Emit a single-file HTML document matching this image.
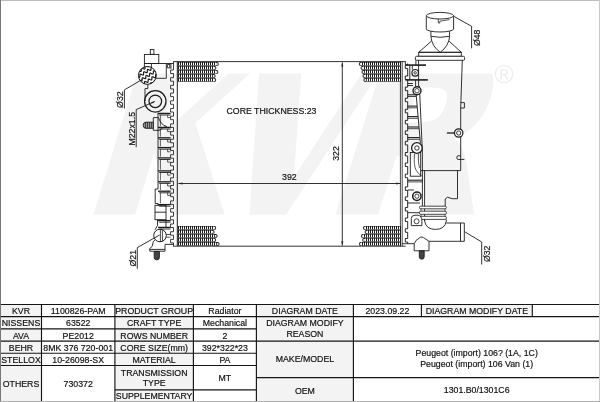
<!DOCTYPE html>
<html lang="en"><head><meta charset="utf-8"><title>Radiator 1100826-PAM diagram</title>
<style>
html,body{margin:0;padding:0;background:#fff;}
body{width:600px;height:402px;overflow:hidden;}
svg{display:block;font-family:"Liberation Sans",sans-serif;will-change:transform;}
</style></head><body>
<svg width="600" height="402" viewBox="0 0 600 402">
<rect x="0" y="0" width="600" height="402" fill="#fff"/>
<clipPath id="wc"><rect x="0" y="73.6" width="600" height="141.1"/></clipPath>
<g clip-path="url(#wc)" font-family="'DejaVu Serif',serif" font-weight="bold" font-size="200" fill="#f3f3f3"><text transform="matrix(1.1094,0,-0.5027,1.6245,45.87,267.575)">K</text><text transform="matrix(0.9555,0,-0.4859,1.3398,185.166,233.408)" stroke="#f3f3f3" stroke-width="3.5" stroke-linejoin="miter" stroke-miterlimit="8">V</text></g>
<g clip-path="url(#wc)" font-family="'DejaVu Sans',sans-serif" font-weight="bold" font-size="200" fill="#f3f3f3"><text transform="matrix(1.0036,0.0001,-0.3369,1.0734,320.172,211.805)" stroke="#f3f3f3" stroke-width="5" stroke-linejoin="miter" stroke-miterlimit="8">R</text></g>
<text x="504.1" y="83.4" text-anchor="middle" font-size="26.5" fill="#eeeeee">®</text>
<line x1="173.30" y1="61.60" x2="405.60" y2="61.60" stroke="#1c1c1c" stroke-width="0.9" />
<line x1="173.30" y1="246.20" x2="405.60" y2="246.20" stroke="#1c1c1c" stroke-width="0.9" />
<line x1="177.30" y1="61.60" x2="177.30" y2="246.20" stroke="#1c1c1c" stroke-width="1.0" />
<line x1="400.40" y1="61.60" x2="400.40" y2="246.20" stroke="#1c1c1c" stroke-width="0.8" />
<path d="M178.00,62.10 H216.95 A1.85,1.85 0 0 1 216.95,65.80 H178.00Z" fill="#1e1e1e"/>
<path d="M179.5,62.60V65.30M181.5,62.60V65.30M183.5,62.60V65.30M185.5,62.60V65.30M187.5,62.60V65.30M189.5,62.60V65.30M191.5,62.60V65.30M193.5,62.60V65.30M195.5,62.60V65.30M197.5,62.60V65.30M199.5,62.60V65.30M201.5,62.60V65.30M203.5,62.60V65.30M205.5,62.60V65.30M207.5,62.60V65.30M209.5,62.60V65.30M211.5,62.60V65.30M213.5,62.60V65.30M215.5,62.60V65.30" fill="none" stroke="#fff" stroke-width="1" stroke-linecap="butt"/>
<circle cx="216.85" cy="63.95" r="1.0" fill="#fff"/>
<path d="M178.00,66.10 H214.55 A1.85,1.85 0 0 1 214.55,69.80 H178.00Z" fill="#1e1e1e"/>
<path d="M179.5,66.60V69.30M181.5,66.60V69.30M183.5,66.60V69.30M185.5,66.60V69.30M187.5,66.60V69.30M189.5,66.60V69.30M191.5,66.60V69.30M193.5,66.60V69.30M195.5,66.60V69.30M197.5,66.60V69.30M199.5,66.60V69.30M201.5,66.60V69.30M203.5,66.60V69.30M205.5,66.60V69.30M207.5,66.60V69.30M209.5,66.60V69.30M211.5,66.60V69.30M213.5,66.60V69.30" fill="none" stroke="#fff" stroke-width="1" stroke-linecap="butt"/>
<circle cx="214.45" cy="67.95" r="1.0" fill="#fff"/>
<path d="M178.00,70.10 H216.55 A1.85,1.85 0 0 1 216.55,73.80 H178.00Z" fill="#1e1e1e"/>
<path d="M179.5,70.60V73.30M181.5,70.60V73.30M183.5,70.60V73.30M185.5,70.60V73.30M187.5,70.60V73.30M189.5,70.60V73.30M191.5,70.60V73.30M193.5,70.60V73.30M195.5,70.60V73.30M197.5,70.60V73.30M199.5,70.60V73.30M201.5,70.60V73.30M203.5,70.60V73.30M205.5,70.60V73.30M207.5,70.60V73.30M209.5,70.60V73.30M211.5,70.60V73.30M213.5,70.60V73.30M215.5,70.60V73.30" fill="none" stroke="#fff" stroke-width="1" stroke-linecap="butt"/>
<circle cx="216.45" cy="71.95" r="1.0" fill="#fff"/>
<path d="M178.00,74.10 H213.75 A1.85,1.85 0 0 1 213.75,77.80 H178.00Z" fill="#1e1e1e"/>
<path d="M179.5,74.60V77.30M181.5,74.60V77.30M183.5,74.60V77.30M185.5,74.60V77.30M187.5,74.60V77.30M189.5,74.60V77.30M191.5,74.60V77.30M193.5,74.60V77.30M195.5,74.60V77.30M197.5,74.60V77.30M199.5,74.60V77.30M201.5,74.60V77.30M203.5,74.60V77.30M205.5,74.60V77.30M207.5,74.60V77.30M209.5,74.60V77.30M211.5,74.60V77.30" fill="none" stroke="#fff" stroke-width="1" stroke-linecap="butt"/>
<circle cx="213.65" cy="75.95" r="1.0" fill="#fff"/>
<path d="M178.00,78.10 H214.35 A1.85,1.85 0 0 1 214.35,81.80 H178.00Z" fill="#1e1e1e"/>
<path d="M179.5,78.60V81.30M181.5,78.60V81.30M183.5,78.60V81.30M185.5,78.60V81.30M187.5,78.60V81.30M189.5,78.60V81.30M191.5,78.60V81.30M193.5,78.60V81.30M195.5,78.60V81.30M197.5,78.60V81.30M199.5,78.60V81.30M201.5,78.60V81.30M203.5,78.60V81.30M205.5,78.60V81.30M207.5,78.60V81.30M209.5,78.60V81.30M211.5,78.60V81.30M213.5,78.60V81.30" fill="none" stroke="#fff" stroke-width="1" stroke-linecap="butt"/>
<circle cx="214.25" cy="79.95" r="1.0" fill="#fff"/>
<path d="M178.00,226.10 H214.35 A1.85,1.85 0 0 1 214.35,229.80 H178.00Z" fill="#1e1e1e"/>
<path d="M179.5,226.60V229.30M181.5,226.60V229.30M183.5,226.60V229.30M185.5,226.60V229.30M187.5,226.60V229.30M189.5,226.60V229.30M191.5,226.60V229.30M193.5,226.60V229.30M195.5,226.60V229.30M197.5,226.60V229.30M199.5,226.60V229.30M201.5,226.60V229.30M203.5,226.60V229.30M205.5,226.60V229.30M207.5,226.60V229.30M209.5,226.60V229.30M211.5,226.60V229.30M213.5,226.60V229.30" fill="none" stroke="#fff" stroke-width="1" stroke-linecap="butt"/>
<circle cx="214.25" cy="227.95" r="1.0" fill="#fff"/>
<path d="M178.00,230.10 H212.75 A1.85,1.85 0 0 1 212.75,233.80 H178.00Z" fill="#1e1e1e"/>
<path d="M179.5,230.60V233.30M181.5,230.60V233.30M183.5,230.60V233.30M185.5,230.60V233.30M187.5,230.60V233.30M189.5,230.60V233.30M191.5,230.60V233.30M193.5,230.60V233.30M195.5,230.60V233.30M197.5,230.60V233.30M199.5,230.60V233.30M201.5,230.60V233.30M203.5,230.60V233.30M205.5,230.60V233.30M207.5,230.60V233.30M209.5,230.60V233.30M211.5,230.60V233.30" fill="none" stroke="#fff" stroke-width="1" stroke-linecap="butt"/>
<circle cx="212.65" cy="231.95" r="1.0" fill="#fff"/>
<path d="M178.00,234.10 H215.75 A1.85,1.85 0 0 1 215.75,237.80 H178.00Z" fill="#1e1e1e"/>
<path d="M179.5,234.60V237.30M181.5,234.60V237.30M183.5,234.60V237.30M185.5,234.60V237.30M187.5,234.60V237.30M189.5,234.60V237.30M191.5,234.60V237.30M193.5,234.60V237.30M195.5,234.60V237.30M197.5,234.60V237.30M199.5,234.60V237.30M201.5,234.60V237.30M203.5,234.60V237.30M205.5,234.60V237.30M207.5,234.60V237.30M209.5,234.60V237.30M211.5,234.60V237.30M213.5,234.60V237.30" fill="none" stroke="#fff" stroke-width="1" stroke-linecap="butt"/>
<circle cx="215.65" cy="235.95" r="1.0" fill="#fff"/>
<path d="M178.00,238.10 H214.35 A1.85,1.85 0 0 1 214.35,241.80 H178.00Z" fill="#1e1e1e"/>
<path d="M179.5,238.60V241.30M181.5,238.60V241.30M183.5,238.60V241.30M185.5,238.60V241.30M187.5,238.60V241.30M189.5,238.60V241.30M191.5,238.60V241.30M193.5,238.60V241.30M195.5,238.60V241.30M197.5,238.60V241.30M199.5,238.60V241.30M201.5,238.60V241.30M203.5,238.60V241.30M205.5,238.60V241.30M207.5,238.60V241.30M209.5,238.60V241.30M211.5,238.60V241.30M213.5,238.60V241.30" fill="none" stroke="#fff" stroke-width="1" stroke-linecap="butt"/>
<circle cx="214.25" cy="239.95" r="1.0" fill="#fff"/>
<path d="M178.00,242.10 H217.65 A1.85,1.85 0 0 1 217.65,245.80 H178.00Z" fill="#1e1e1e"/>
<path d="M179.5,242.60V245.30M181.5,242.60V245.30M183.5,242.60V245.30M185.5,242.60V245.30M187.5,242.60V245.30M189.5,242.60V245.30M191.5,242.60V245.30M193.5,242.60V245.30M195.5,242.60V245.30M197.5,242.60V245.30M199.5,242.60V245.30M201.5,242.60V245.30M203.5,242.60V245.30M205.5,242.60V245.30M207.5,242.60V245.30M209.5,242.60V245.30M211.5,242.60V245.30M213.5,242.60V245.30M215.5,242.60V245.30" fill="none" stroke="#fff" stroke-width="1" stroke-linecap="butt"/>
<circle cx="217.55" cy="243.95" r="1.0" fill="#fff"/>
<path d="M401.00,62.10 H360.65 A1.85,1.85 0 0 0 360.65,65.80 H401.00Z" fill="#1e1e1e"/>
<path d="M399.5,62.60V65.30M397.5,62.60V65.30M395.5,62.60V65.30M393.5,62.60V65.30M391.5,62.60V65.30M389.5,62.60V65.30M387.5,62.60V65.30M385.5,62.60V65.30M383.5,62.60V65.30M381.5,62.60V65.30M379.5,62.60V65.30M377.5,62.60V65.30M375.5,62.60V65.30M373.5,62.60V65.30M371.5,62.60V65.30M369.5,62.60V65.30M367.5,62.60V65.30M365.5,62.60V65.30M363.5,62.60V65.30M361.5,62.60V65.30" fill="none" stroke="#fff" stroke-width="1" stroke-linecap="butt"/>
<circle cx="360.75" cy="63.95" r="1.0" fill="#fff"/>
<path d="M401.00,66.10 H362.45 A1.85,1.85 0 0 0 362.45,69.80 H401.00Z" fill="#1e1e1e"/>
<path d="M399.5,66.60V69.30M397.5,66.60V69.30M395.5,66.60V69.30M393.5,66.60V69.30M391.5,66.60V69.30M389.5,66.60V69.30M387.5,66.60V69.30M385.5,66.60V69.30M383.5,66.60V69.30M381.5,66.60V69.30M379.5,66.60V69.30M377.5,66.60V69.30M375.5,66.60V69.30M373.5,66.60V69.30M371.5,66.60V69.30M369.5,66.60V69.30M367.5,66.60V69.30M365.5,66.60V69.30M363.5,66.60V69.30" fill="none" stroke="#fff" stroke-width="1" stroke-linecap="butt"/>
<circle cx="362.55" cy="67.95" r="1.0" fill="#fff"/>
<path d="M401.00,70.10 H363.35 A1.85,1.85 0 0 0 363.35,73.80 H401.00Z" fill="#1e1e1e"/>
<path d="M399.5,70.60V73.30M397.5,70.60V73.30M395.5,70.60V73.30M393.5,70.60V73.30M391.5,70.60V73.30M389.5,70.60V73.30M387.5,70.60V73.30M385.5,70.60V73.30M383.5,70.60V73.30M381.5,70.60V73.30M379.5,70.60V73.30M377.5,70.60V73.30M375.5,70.60V73.30M373.5,70.60V73.30M371.5,70.60V73.30M369.5,70.60V73.30M367.5,70.60V73.30M365.5,70.60V73.30" fill="none" stroke="#fff" stroke-width="1" stroke-linecap="butt"/>
<circle cx="363.45" cy="71.95" r="1.0" fill="#fff"/>
<path d="M401.00,74.10 H364.35 A1.85,1.85 0 0 0 364.35,77.80 H401.00Z" fill="#1e1e1e"/>
<path d="M399.5,74.60V77.30M397.5,74.60V77.30M395.5,74.60V77.30M393.5,74.60V77.30M391.5,74.60V77.30M389.5,74.60V77.30M387.5,74.60V77.30M385.5,74.60V77.30M383.5,74.60V77.30M381.5,74.60V77.30M379.5,74.60V77.30M377.5,74.60V77.30M375.5,74.60V77.30M373.5,74.60V77.30M371.5,74.60V77.30M369.5,74.60V77.30M367.5,74.60V77.30M365.5,74.60V77.30" fill="none" stroke="#fff" stroke-width="1" stroke-linecap="butt"/>
<circle cx="364.45" cy="75.95" r="1.0" fill="#fff"/>
<path d="M401.00,78.10 H365.25 A1.85,1.85 0 0 0 365.25,81.80 H401.00Z" fill="#1e1e1e"/>
<path d="M399.5,78.60V81.30M397.5,78.60V81.30M395.5,78.60V81.30M393.5,78.60V81.30M391.5,78.60V81.30M389.5,78.60V81.30M387.5,78.60V81.30M385.5,78.60V81.30M383.5,78.60V81.30M381.5,78.60V81.30M379.5,78.60V81.30M377.5,78.60V81.30M375.5,78.60V81.30M373.5,78.60V81.30M371.5,78.60V81.30M369.5,78.60V81.30M367.5,78.60V81.30" fill="none" stroke="#fff" stroke-width="1" stroke-linecap="butt"/>
<circle cx="365.35" cy="79.95" r="1.0" fill="#fff"/>
<path d="M401.00,226.10 H364.85 A1.85,1.85 0 0 0 364.85,229.80 H401.00Z" fill="#1e1e1e"/>
<path d="M399.5,226.60V229.30M397.5,226.60V229.30M395.5,226.60V229.30M393.5,226.60V229.30M391.5,226.60V229.30M389.5,226.60V229.30M387.5,226.60V229.30M385.5,226.60V229.30M383.5,226.60V229.30M381.5,226.60V229.30M379.5,226.60V229.30M377.5,226.60V229.30M375.5,226.60V229.30M373.5,226.60V229.30M371.5,226.60V229.30M369.5,226.60V229.30M367.5,226.60V229.30M365.5,226.60V229.30" fill="none" stroke="#fff" stroke-width="1" stroke-linecap="butt"/>
<circle cx="364.95" cy="227.95" r="1.0" fill="#fff"/>
<path d="M401.00,230.10 H366.45 A1.85,1.85 0 0 0 366.45,233.80 H401.00Z" fill="#1e1e1e"/>
<path d="M399.5,230.60V233.30M397.5,230.60V233.30M395.5,230.60V233.30M393.5,230.60V233.30M391.5,230.60V233.30M389.5,230.60V233.30M387.5,230.60V233.30M385.5,230.60V233.30M383.5,230.60V233.30M381.5,230.60V233.30M379.5,230.60V233.30M377.5,230.60V233.30M375.5,230.60V233.30M373.5,230.60V233.30M371.5,230.60V233.30M369.5,230.60V233.30M367.5,230.60V233.30" fill="none" stroke="#fff" stroke-width="1" stroke-linecap="butt"/>
<circle cx="366.55" cy="231.95" r="1.0" fill="#fff"/>
<path d="M401.00,234.10 H362.85 A1.85,1.85 0 0 0 362.85,237.80 H401.00Z" fill="#1e1e1e"/>
<path d="M399.5,234.60V237.30M397.5,234.60V237.30M395.5,234.60V237.30M393.5,234.60V237.30M391.5,234.60V237.30M389.5,234.60V237.30M387.5,234.60V237.30M385.5,234.60V237.30M383.5,234.60V237.30M381.5,234.60V237.30M379.5,234.60V237.30M377.5,234.60V237.30M375.5,234.60V237.30M373.5,234.60V237.30M371.5,234.60V237.30M369.5,234.60V237.30M367.5,234.60V237.30M365.5,234.60V237.30M363.5,234.60V237.30" fill="none" stroke="#fff" stroke-width="1" stroke-linecap="butt"/>
<circle cx="362.95" cy="235.95" r="1.0" fill="#fff"/>
<path d="M401.00,238.10 H364.05 A1.85,1.85 0 0 0 364.05,241.80 H401.00Z" fill="#1e1e1e"/>
<path d="M399.5,238.60V241.30M397.5,238.60V241.30M395.5,238.60V241.30M393.5,238.60V241.30M391.5,238.60V241.30M389.5,238.60V241.30M387.5,238.60V241.30M385.5,238.60V241.30M383.5,238.60V241.30M381.5,238.60V241.30M379.5,238.60V241.30M377.5,238.60V241.30M375.5,238.60V241.30M373.5,238.60V241.30M371.5,238.60V241.30M369.5,238.60V241.30M367.5,238.60V241.30M365.5,238.60V241.30" fill="none" stroke="#fff" stroke-width="1" stroke-linecap="butt"/>
<circle cx="364.15" cy="239.95" r="1.0" fill="#fff"/>
<path d="M401.00,242.10 H360.85 A1.85,1.85 0 0 0 360.85,245.80 H401.00Z" fill="#1e1e1e"/>
<path d="M399.5,242.60V245.30M397.5,242.60V245.30M395.5,242.60V245.30M393.5,242.60V245.30M391.5,242.60V245.30M389.5,242.60V245.30M387.5,242.60V245.30M385.5,242.60V245.30M383.5,242.60V245.30M381.5,242.60V245.30M379.5,242.60V245.30M377.5,242.60V245.30M375.5,242.60V245.30M373.5,242.60V245.30M371.5,242.60V245.30M369.5,242.60V245.30M367.5,242.60V245.30M365.5,242.60V245.30M363.5,242.60V245.30M361.5,242.60V245.30" fill="none" stroke="#fff" stroke-width="1" stroke-linecap="butt"/>
<circle cx="360.95" cy="243.95" r="1.0" fill="#fff"/>
<line x1="178.50" y1="183.50" x2="400.30" y2="183.50" stroke="#1c1c1c" stroke-width="0.9" />
<polygon points="177.9,183.5 182.5,182.5 182.5,184.5" fill="#222"/>
<polygon points="400.8,183.5 396.2,182.5 396.2,184.5" fill="#222"/>
<line x1="342.30" y1="62.50" x2="342.30" y2="245.50" stroke="#1c1c1c" stroke-width="0.9" />
<polygon points="342.3,62 341.3,66.6 343.3,66.6" fill="#222"/>
<polygon points="342.3,245.9 341.3,241.3 343.3,241.3" fill="#222"/>
<text x="289.40" y="180.20" text-anchor="middle" font-size="8.78" fill="#111" stroke="#111" stroke-width="0.18" >392</text>
<text x="339.40" y="153.50" text-anchor="middle" font-size="8.78" fill="#111" stroke="#111" stroke-width="0.18" transform="rotate(-90 339.40 153.50)" >322</text>
<text x="271.50" y="114.20" text-anchor="middle" font-size="8.78" fill="#111" stroke="#111" stroke-width="0.18" >CORE THICKNESS:23</text>
<path d="M173.50,61.60V70.00H170.60V73.50H173.50V77.70H170.60V81.20H173.50V85.40H170.60V88.90H173.50V93.10H170.60V96.60H173.50V100.80H170.60V104.30H173.50V108.50H170.60V112.00H173.50V116.20H170.60V119.70H173.50V123.90H170.60V127.40H173.50V131.60H170.60V135.10H173.50V139.30H170.60V142.80H173.50V147.00H170.60V150.50H173.50V154.70H170.60V158.20H173.50V162.40H170.60V165.90H173.50V170.10H170.60V173.60H173.50V177.80H170.60V181.30H173.50V185.50H170.60V189.00H173.50V193.20H170.60V196.70H173.50V200.90H170.60V204.40H173.50V208.60H170.60V212.10H173.50V216.30H170.60V219.80H173.50V224.00H170.60V227.50H173.50V231.70H170.60V235.20H173.50V239.40H170.60V242.90H173.50V246.20" fill="none" stroke="#1c1c1c" stroke-width="0.85" stroke-linejoin="round" />
<rect x="150.30" y="49.60" width="3.60" height="4.80" fill="none" stroke="#1c1c1c" stroke-width="0.9" rx="0"/>
<rect x="144.40" y="54.40" width="14.40" height="9.10" fill="none" stroke="#1c1c1c" stroke-width="0.9" rx="0"/>
<line x1="144.40" y1="63.50" x2="173.60" y2="63.50" stroke="#1c1c1c" stroke-width="0.9" />
<path d="M144.4,63.5V70.5 M151.4,63.5V67.4 M166.3,63.5V78.3H155.5 M167.4,64.5h2.4v3.4h-2.4z M170.9,63.5V69.2" fill="none" stroke="#1c1c1c" stroke-width="0.9" stroke-linejoin="round" />
<clipPath id="hc"><circle cx="147.4" cy="75.4" r="8.9"/></clipPath>
<circle cx="147.40" cy="75.40" r="8.95" fill="#fff" stroke="#1c1c1c" stroke-width="1.0"/>
<g clip-path="url(#hc)"><path d="M130.11,76.04 L130.16,75.65 L130.28,75.36 L130.47,75.19 L130.73,75.15 L131.07,75.21 L131.46,75.36 L131.88,75.57 L132.31,75.78 L132.71,75.96 L133.07,76.06 L133.37,76.06 L133.59,75.94 L133.73,75.70 L133.81,75.35 L133.83,74.92 L133.83,74.44 L133.83,73.97 L133.86,73.54 L133.93,73.19 L134.08,72.95 L134.30,72.83 L134.59,72.83 L134.95,72.93 L135.36,73.11 L135.78,73.32 L136.21,73.53 L136.60,73.68 L136.93,73.74 L137.20,73.70 L137.39,73.53 L137.50,73.24 L137.55,72.85 L137.57,72.40 L137.56,71.92 L137.57,71.46 L137.61,71.06 L137.71,70.75 L137.89,70.55 L138.14,70.48 L138.46,70.53 L138.84,70.67 L139.26,70.86 L139.69,71.08 L140.10,71.26 L140.47,71.38 L140.78,71.41 L141.01,71.31 L141.17,71.09 L141.26,70.76 L141.29,70.35 L141.30,69.88 L141.29,69.40 L141.31,68.96 L141.38,68.59 L141.51,68.33 L141.71,68.18 L141.99,68.16 L142.34,68.24 L142.74,68.41 L143.16,68.62 L143.59,68.82 L143.98,68.99 L144.33,69.07 L144.61,69.05 L144.82,68.91 L144.95,68.64 L145.01,68.27 L145.03,67.83 L145.03,67.35 L145.03,66.89 L145.06,66.47 L145.15,66.14 L145.31,65.92 L145.54,65.83 L145.85,65.85 L146.22,65.97 L146.64,66.16 L147.06,66.37 L147.48,66.57 L147.86,66.70 L148.18,66.75 L148.43,66.68 L148.61,66.48 L148.71,66.17 L148.75,65.77 L148.76,65.31 L148.76,64.83 L148.77,64.38 L148.82,63.99 L148.94,63.71 L149.13,63.54 L149.39,63.49 L149.73,63.55 L150.12,63.71 L150.54,63.91 L150.96,64.12 L151.37,64.30 L151.73,64.40 L152.02,64.40 L152.24,64.28 L152.39,64.04 L152.46,63.69 L152.49,63.26 L152.49,62.79 L152.49,62.31 L152.51,61.88 L152.59,61.53 L152.73,61.29 L152.95,61.17 L153.25,61.17 L153.61,61.27 L154.01,61.45 L154.44,61.66 L154.86,61.87 L155.25,62.02 L155.59,62.08 L155.85,62.04 L156.04,61.87 L156.16,61.58 L156.21,61.19" fill="none" stroke="#1c1c1c" stroke-width="1.2"/><path d="M132.39,79.68 L132.44,79.30 L132.56,79.01 L132.75,78.84 L133.01,78.79 L133.35,78.86 L133.74,79.01 L134.16,79.21 L134.59,79.43 L134.99,79.60 L135.35,79.71 L135.65,79.71 L135.87,79.59 L136.01,79.34 L136.09,78.99 L136.11,78.56 L136.11,78.09 L136.11,77.62 L136.14,77.19 L136.21,76.84 L136.36,76.60 L136.58,76.48 L136.87,76.48 L137.23,76.58 L137.64,76.76 L138.06,76.97 L138.48,77.17 L138.87,77.32 L139.21,77.39 L139.47,77.34 L139.66,77.17 L139.78,76.88 L139.83,76.50 L139.84,76.05 L139.84,75.57 L139.85,75.11 L139.89,74.70 L139.99,74.40 L140.17,74.20 L140.42,74.13 L140.74,74.17 L141.12,74.31 L141.54,74.51 L141.96,74.72 L142.38,74.91 L142.75,75.03 L143.06,75.05 L143.29,74.96 L143.45,74.74 L143.54,74.41 L143.57,73.99 L143.57,73.52 L143.57,73.05 L143.59,72.61 L143.65,72.24 L143.78,71.97 L143.99,71.83 L144.27,71.80 L144.62,71.89 L145.01,72.05 L145.44,72.26 L145.86,72.47 L146.26,72.64 L146.61,72.72 L146.89,72.70 L147.09,72.55 L147.22,72.29 L147.29,71.92 L147.31,71.48 L147.30,71.00 L147.31,70.53 L147.34,70.12 L147.43,69.79 L147.59,69.57 L147.82,69.47 L148.13,69.49 L148.50,69.62 L148.91,69.80 L149.34,70.02 L149.76,70.21 L150.14,70.35 L150.46,70.39 L150.71,70.32 L150.89,70.13 L150.99,69.82 L151.03,69.42 L151.04,68.96 L151.03,68.48 L151.05,68.03 L151.10,67.64 L151.21,67.35 L151.40,67.18 L151.67,67.14 L152.00,67.20 L152.39,67.35 L152.82,67.56 L153.24,67.77 L153.65,67.94 L154.01,68.05 L154.30,68.05 L154.52,67.93 L154.67,67.69 L154.74,67.34 L154.77,66.91 L154.77,66.43 L154.77,65.96 L154.79,65.53 L154.87,65.18 L155.01,64.94 L155.23,64.82 L155.53,64.82 L155.89,64.92 L156.29,65.10 L156.72,65.31 L157.14,65.51 L157.53,65.67 L157.87,65.73 L158.13,65.68 L158.32,65.51 L158.44,65.23 L158.49,64.84" fill="none" stroke="#1c1c1c" stroke-width="1.2"/><path d="M134.67,83.33 L134.72,82.94 L134.84,82.66 L135.03,82.49 L135.29,82.44 L135.63,82.51 L136.02,82.66 L136.44,82.86 L136.87,83.07 L137.27,83.25 L137.63,83.35 L137.92,83.35 L138.14,83.23 L138.29,82.99 L138.36,82.64 L138.39,82.21 L138.39,81.74 L138.39,81.26 L138.41,80.83 L138.49,80.48 L138.63,80.24 L138.85,80.12 L139.15,80.12 L139.51,80.23 L139.91,80.40 L140.34,80.62 L140.76,80.82 L141.15,80.97 L141.49,81.04 L141.75,80.99 L141.94,80.82 L142.06,80.53 L142.11,80.15 L142.12,79.69 L142.12,79.21 L142.13,78.75 L142.17,78.35 L142.27,78.04 L142.44,77.85 L142.69,77.78 L143.02,77.82 L143.40,77.96 L143.82,78.15 L144.24,78.37 L144.66,78.56 L145.03,78.68 L145.33,78.70 L145.57,78.60 L145.73,78.39 L145.82,78.06 L145.85,77.64 L145.85,77.17 L145.85,76.69 L145.87,76.25 L145.93,75.88 L146.06,75.62 L146.27,75.47 L146.55,75.45 L146.89,75.54 L147.29,75.70 L147.72,75.91 L148.14,76.12 L148.54,76.28 L148.89,76.37 L149.17,76.34 L149.37,76.20 L149.50,75.93 L149.57,75.57 L149.59,75.12 L149.58,74.65 L149.58,74.18 L149.62,73.76 L149.71,73.43 L149.87,73.21 L150.10,73.12 L150.41,73.14 L150.78,73.26 L151.19,73.45 L151.62,73.66 L152.04,73.86 L152.42,74.00 L152.74,74.04 L152.99,73.97 L153.17,73.78 L153.27,73.47 L153.31,73.06 L153.32,72.60 L153.31,72.12 L153.32,71.67 L153.38,71.29 L153.49,71.00 L153.68,70.83 L153.95,70.78 L154.28,70.85 L154.67,71.00 L155.09,71.20 L155.52,71.41 L155.93,71.59 L156.29,71.70 L156.58,71.70 L156.80,71.57 L156.95,71.33 L157.02,70.98 L157.05,70.55 L157.05,70.08 L157.05,69.61 L157.07,69.18 L157.15,68.83 L157.29,68.58 L157.51,68.46 L157.81,68.46 L158.17,68.57 L158.57,68.75 L159.00,68.96 L159.42,69.16 L159.81,69.31 L160.14,69.38 L160.41,69.33 L160.60,69.16 L160.71,68.87 L160.77,68.49" fill="none" stroke="#1c1c1c" stroke-width="1.2"/><path d="M136.95,86.98 L137.00,86.59 L137.12,86.30 L137.30,86.13 L137.57,86.09 L137.91,86.15 L138.29,86.30 L138.72,86.51 L139.14,86.72 L139.55,86.90 L139.91,87.00 L140.20,87.00 L140.42,86.88 L140.57,86.64 L140.64,86.29 L140.67,85.86 L140.67,85.38 L140.67,84.91 L140.69,84.48 L140.77,84.13 L140.91,83.89 L141.13,83.77 L141.43,83.77 L141.79,83.87 L142.19,84.05 L142.62,84.26 L143.04,84.46 L143.43,84.62 L143.77,84.68 L144.03,84.64 L144.22,84.47 L144.34,84.18 L144.39,83.79 L144.40,83.34 L144.40,82.86 L144.40,82.40 L144.45,82.00 L144.55,81.69 L144.72,81.49 L144.97,81.42 L145.30,81.47 L145.68,81.61 L146.09,81.80 L146.52,82.01 L146.93,82.20 L147.30,82.32 L147.61,82.35 L147.85,82.25 L148.01,82.03 L148.10,81.70 L148.13,81.29 L148.13,80.82 L148.13,80.34 L148.15,79.90 L148.21,79.53 L148.34,79.26 L148.55,79.12 L148.83,79.10 L149.17,79.18 L149.57,79.35 L150.00,79.56 L150.42,79.76 L150.82,79.93 L151.17,80.01 L151.45,79.99 L151.65,79.85 L151.78,79.58 L151.85,79.21 L151.86,78.77 L151.86,78.29 L151.86,77.83 L151.90,77.41 L151.99,77.08 L152.14,76.86 L152.38,76.76 L152.69,76.79 L153.06,76.91 L153.47,77.10 L153.90,77.31 L154.32,77.51 L154.70,77.64 L155.02,77.69 L155.27,77.62 L155.44,77.42 L155.55,77.11 L155.59,76.71 L155.60,76.25 L155.59,75.77 L155.60,75.32 L155.66,74.93 L155.77,74.65 L155.96,74.48 L156.23,74.43 L156.56,74.49 L156.95,74.65 L157.37,74.85 L157.80,75.06 L158.21,75.24 L158.57,75.34 L158.86,75.34 L159.08,75.22 L159.22,74.98 L159.30,74.63 L159.33,74.20 L159.33,73.73 L159.32,73.25 L159.35,72.82 L159.43,72.47 L159.57,72.23 L159.79,72.11 L160.08,72.11 L160.44,72.21 L160.85,72.39 L161.28,72.60 L161.70,72.81 L162.09,72.96 L162.42,73.02 L162.69,72.98 L162.88,72.81 L162.99,72.52 L163.05,72.13" fill="none" stroke="#1c1c1c" stroke-width="1.2"/><path d="M139.23,90.62 L139.28,90.24 L139.39,89.95 L139.58,89.78 L139.85,89.73 L140.18,89.80 L140.57,89.95 L141.00,90.15 L141.42,90.37 L141.83,90.54 L142.19,90.65 L142.48,90.65 L142.70,90.53 L142.85,90.28 L142.92,89.93 L142.95,89.50 L142.95,89.03 L142.95,88.56 L142.97,88.13 L143.05,87.78 L143.19,87.54 L143.41,87.42 L143.71,87.42 L144.07,87.52 L144.47,87.70 L144.90,87.91 L145.32,88.11 L145.71,88.26 L146.05,88.33 L146.31,88.28 L146.50,88.11 L146.61,87.82 L146.67,87.44 L146.68,86.99 L146.68,86.51 L146.68,86.05 L146.73,85.64 L146.83,85.34 L147.00,85.14 L147.25,85.07 L147.57,85.11 L147.95,85.25 L148.37,85.45 L148.80,85.66 L149.21,85.85 L149.58,85.97 L149.89,85.99 L150.13,85.90 L150.29,85.68 L150.37,85.35 L150.41,84.93 L150.41,84.46 L150.41,83.99 L150.43,83.54 L150.49,83.18 L150.62,82.91 L150.82,82.77 L151.10,82.74 L151.45,82.83 L151.85,82.99 L152.28,83.20 L152.70,83.41 L153.10,83.58 L153.45,83.66 L153.73,83.64 L153.93,83.49 L154.06,83.23 L154.12,82.86 L154.14,82.42 L154.14,81.94 L154.14,81.47 L154.18,81.06 L154.27,80.73 L154.42,80.51 L154.66,80.41 L154.97,80.43 L155.34,80.56 L155.75,80.74 L156.18,80.96 L156.60,81.15 L156.98,81.29 L157.30,81.33 L157.55,81.26 L157.72,81.07 L157.82,80.76 L157.87,80.36 L157.87,79.90 L157.87,79.42 L157.88,78.97 L157.94,78.58 L158.05,78.29 L158.24,78.12 L158.51,78.08 L158.84,78.14 L159.23,78.29 L159.65,78.50 L160.08,78.71 L160.48,78.88 L160.84,78.99 L161.14,78.99 L161.36,78.87 L161.50,78.63 L161.58,78.28 L161.60,77.85 L161.60,77.37 L161.60,76.90 L161.63,76.47 L161.70,76.12 L161.85,75.88 L162.07,75.76 L162.36,75.76 L162.72,75.86 L163.13,76.04 L163.56,76.25 L163.98,76.45 L164.37,76.61 L164.70,76.67 L164.97,76.62 L165.16,76.45 L165.27,76.17 L165.33,75.78" fill="none" stroke="#1c1c1c" stroke-width="1.2"/></g>
<path d="M145.0,101 V88.6 H147.8 V84.2" fill="none" stroke="#1c1c1c" stroke-width="0.9" stroke-linejoin="round" />
<circle cx="155.30" cy="101.30" r="10.70" fill="none" stroke="#1c1c1c" stroke-width="1.25"/>
<circle cx="155.30" cy="101.30" r="6.30" fill="none" stroke="#1c1c1c" stroke-width="1.25"/>
<line x1="158.00" y1="112.60" x2="158.00" y2="189.00" stroke="#1c1c1c" stroke-width="0.9" />
<line x1="158.00" y1="113.40" x2="170.60" y2="113.40" stroke="#1c1c1c" stroke-width="1.3" />
<line x1="159.20" y1="115.00" x2="170.60" y2="115.00" stroke="#1c1c1c" stroke-width="0.9" />
<line x1="158.00" y1="127.40" x2="170.60" y2="127.40" stroke="#1c1c1c" stroke-width="1.3" />
<line x1="159.20" y1="129.00" x2="170.60" y2="129.00" stroke="#1c1c1c" stroke-width="0.9" />
<line x1="158.00" y1="137.80" x2="170.60" y2="137.80" stroke="#1c1c1c" stroke-width="1.3" />
<line x1="159.20" y1="139.40" x2="170.60" y2="139.40" stroke="#1c1c1c" stroke-width="0.9" />
<line x1="158.00" y1="147.60" x2="170.60" y2="147.60" stroke="#1c1c1c" stroke-width="1.3" />
<line x1="159.20" y1="149.20" x2="170.60" y2="149.20" stroke="#1c1c1c" stroke-width="0.9" />
<line x1="158.00" y1="157.90" x2="170.60" y2="157.90" stroke="#1c1c1c" stroke-width="1.3" />
<line x1="159.20" y1="159.50" x2="170.60" y2="159.50" stroke="#1c1c1c" stroke-width="0.9" />
<line x1="158.00" y1="170.90" x2="170.60" y2="170.90" stroke="#1c1c1c" stroke-width="1.3" />
<line x1="159.20" y1="172.50" x2="170.60" y2="172.50" stroke="#1c1c1c" stroke-width="0.9" />
<line x1="158.00" y1="181.80" x2="170.60" y2="181.80" stroke="#1c1c1c" stroke-width="1.3" />
<line x1="159.20" y1="183.40" x2="170.60" y2="183.40" stroke="#1c1c1c" stroke-width="0.9" />
<line x1="158.00" y1="191.20" x2="170.60" y2="191.20" stroke="#1c1c1c" stroke-width="1.3" />
<line x1="159.20" y1="192.80" x2="170.60" y2="192.80" stroke="#1c1c1c" stroke-width="0.9" />
<line x1="158.00" y1="204.60" x2="170.60" y2="204.60" stroke="#1c1c1c" stroke-width="1.3" />
<line x1="159.20" y1="206.20" x2="170.60" y2="206.20" stroke="#1c1c1c" stroke-width="0.9" />
<line x1="158.00" y1="220.60" x2="170.60" y2="220.60" stroke="#1c1c1c" stroke-width="1.3" />
<line x1="159.20" y1="222.20" x2="170.60" y2="222.20" stroke="#1c1c1c" stroke-width="0.9" />
<line x1="158.00" y1="227.40" x2="170.60" y2="227.40" stroke="#1c1c1c" stroke-width="1.3" />
<line x1="159.20" y1="229.00" x2="170.60" y2="229.00" stroke="#1c1c1c" stroke-width="0.9" />
<path d="M160.4,114.90V126.20 M167.6,114.90V117.60H170.6" fill="none" stroke="#1c1c1c" stroke-width="0.7" stroke-linejoin="round" />
<path d="M160.4,128.90V136.60 M167.6,128.90V131.60H170.6" fill="none" stroke="#1c1c1c" stroke-width="0.7" stroke-linejoin="round" />
<path d="M160.4,139.30V146.40 M167.6,139.30V142.00H170.6" fill="none" stroke="#1c1c1c" stroke-width="0.7" stroke-linejoin="round" />
<path d="M160.4,149.10V156.70 M167.6,149.10V151.80H170.6" fill="none" stroke="#1c1c1c" stroke-width="0.7" stroke-linejoin="round" />
<path d="M160.4,159.40V169.70 M167.6,159.40V162.10H170.6" fill="none" stroke="#1c1c1c" stroke-width="0.7" stroke-linejoin="round" />
<path d="M160.4,172.40V180.60 M167.6,172.40V175.10H170.6" fill="none" stroke="#1c1c1c" stroke-width="0.7" stroke-linejoin="round" />
<path d="M160.4,183.30V190.00 M167.6,183.30V186.00H170.6" fill="none" stroke="#1c1c1c" stroke-width="0.7" stroke-linejoin="round" />
<path d="M160.4,192.70V203.40 M167.6,192.70V195.40H170.6" fill="none" stroke="#1c1c1c" stroke-width="0.7" stroke-linejoin="round" />
<path d="M153.3,117.6H158.5 Q160.5,124.5 166.5,126.5 Q162,127.5 159.8,130.3 H153.3Z" fill="none" stroke="#1c1c1c" stroke-width="0.9" stroke-linejoin="round" />
<path d="M153.3,122.2H146 Q143.2,122.2 143.2,125.2 Q143.2,128.3 146,128.3H153.3Z" fill="#999" stroke="#1c1c1c" stroke-width="0.9" stroke-linejoin="round" />
<path d="M145.5,122.2V128.3M147.5,122.2V128.3M149.5,122.2V128.3M151.5,122.2V128.3" fill="none" stroke="#1c1c1c" stroke-width="0.7" stroke-linejoin="round" />
<path d="M158.0,189H155.2V203.5H158.0V205.3" fill="none" stroke="#1c1c1c" stroke-width="0.9" stroke-linejoin="round" />
<rect x="155.00" y="205.30" width="11.00" height="14.40" fill="none" stroke="#1c1c1c" stroke-width="0.9" rx="0"/>
<line x1="155.00" y1="212.20" x2="166.00" y2="212.20" stroke="#1c1c1c" stroke-width="0.9" />
<path d="M157.5,219.7V225.5 L155,229.8 M166,219.7V228" fill="none" stroke="#1c1c1c" stroke-width="0.9" stroke-linejoin="round" />
<circle cx="160.00" cy="235.50" r="6.30" fill="#fff" stroke="#1c1c1c" stroke-width="1.0"/>
<line x1="160.40" y1="229.40" x2="160.40" y2="241.60" stroke="#1c1c1c" stroke-width="0.8" />
<line x1="162.40" y1="229.80" x2="162.40" y2="241.20" stroke="#1c1c1c" stroke-width="0.8" />
<line x1="166.30" y1="234.50" x2="170.60" y2="234.50" stroke="#1c1c1c" stroke-width="0.8" />
<line x1="166.10" y1="237.20" x2="170.60" y2="237.20" stroke="#1c1c1c" stroke-width="0.7" />
<path d="M154.8,240 L153.2,241.8 L152.2,246.4 L149.8,248.4 V251.2 H165 V244.4 H173.5 M149.8,249.4H165" fill="none" stroke="#1c1c1c" stroke-width="0.9" stroke-linejoin="round" />
<path d="M154.2,251.6V257.4Q154.2,259.8 156.8,259.8Q159.4,259.8 159.4,257.4V251.6Z" fill="#444" stroke="#1c1c1c" stroke-width="0.9" stroke-linejoin="round" />
<path d="M142.3,79.4L124.4,89.9V108.5" fill="none" stroke="#1c1c1c" stroke-width="0.9" stroke-linejoin="round" />
<text x="123.00" y="99.60" text-anchor="middle" font-size="8.78" fill="#111" stroke="#111" stroke-width="0.18" transform="rotate(-90 123.00 99.60)" >Ø32</text>
<path d="M154.5,101.6L136.2,109.6V147.2" fill="none" stroke="#1c1c1c" stroke-width="0.9" stroke-linejoin="round" />
<polygon points="155.6,101.0 151.2,102.2 151.9,103.8" fill="#1c1c1c"/>
<text x="134.80" y="128.80" text-anchor="middle" font-size="8.78" fill="#111" stroke="#111" stroke-width="0.18" transform="rotate(-90 134.80 128.80)" >M22x1.5</text>
<path d="M159.6,235L137.3,247.6V268.8" fill="none" stroke="#1c1c1c" stroke-width="0.9" stroke-linejoin="round" />
<text x="135.80" y="258.20" text-anchor="middle" font-size="8.78" fill="#111" stroke="#111" stroke-width="0.18" transform="rotate(-90 135.80 258.20)" >Ø21</text>
<line x1="402.20" y1="61.60" x2="402.20" y2="246.20" stroke="#1c1c1c" stroke-width="0.8" />
<path d="M407.7,63.5V64.90H405.3V68.40H407.7V76.00H405.3V79.50H407.7V87.10H405.3V90.60H407.7V98.20H405.3V101.70H407.7V109.30H405.3V112.80H407.7V120.40H405.3V123.90H407.7V130.90H405.3V134.40H407.7V141.40H405.3V144.90H407.7V152.50H405.3V156.00H407.7V163.00H405.3V166.50H407.7V174.20H405.3V177.70H407.7V186.90H405.3V190.40H407.7V196.90H405.3V200.40H407.7V207.50H405.3V211.00H407.7V218.00H405.3V221.50H407.7V228.75H405.3V232.25H407.7V238.50H405.3V242.00H407.7V243.5" fill="none" stroke="#1c1c1c" stroke-width="0.95" stroke-linejoin="round" />
<line x1="407.70" y1="94.80" x2="416.18" y2="94.80" stroke="#1c1c1c" stroke-width="1.1" />
<line x1="407.70" y1="96.50" x2="416.18" y2="96.50" stroke="#1c1c1c" stroke-width="0.8" />
<line x1="407.70" y1="106.10" x2="417.17" y2="106.10" stroke="#1c1c1c" stroke-width="1.1" />
<line x1="407.70" y1="107.80" x2="417.17" y2="107.80" stroke="#1c1c1c" stroke-width="0.8" />
<line x1="407.70" y1="116.60" x2="418.09" y2="116.60" stroke="#1c1c1c" stroke-width="1.1" />
<line x1="407.70" y1="118.30" x2="418.09" y2="118.30" stroke="#1c1c1c" stroke-width="0.8" />
<line x1="407.70" y1="127.00" x2="419.00" y2="127.00" stroke="#1c1c1c" stroke-width="1.1" />
<line x1="407.70" y1="128.70" x2="419.00" y2="128.70" stroke="#1c1c1c" stroke-width="0.8" />
<line x1="407.70" y1="137.60" x2="419.93" y2="137.60" stroke="#1c1c1c" stroke-width="1.1" />
<line x1="407.70" y1="139.30" x2="419.93" y2="139.30" stroke="#1c1c1c" stroke-width="0.8" />
<path d="M426.3,15.7V29 A13.65,3.0 0 0 0 453.6,29 V15.7" fill="#fff" stroke="#1c1c1c" stroke-width="0.9" stroke-linejoin="round" />
<ellipse cx="439.95" cy="15.7" rx="13.65" ry="3.3" fill="#fff" stroke="#1c1c1c" stroke-width="0.9"/>
<path d="M438.3,18.9V23H439.8V21.2L449.5,19.6" fill="none" stroke="#1c1c1c" stroke-width="0.75" stroke-linejoin="round" />
<path d="M430.9,31.2V36.3 M449.6,31.2V36.3 M430.9,36.3 Q440.2,38.3 449.6,36.3" fill="none" stroke="#1c1c1c" stroke-width="0.9" stroke-linejoin="round" />
<path d="M430.9,36.3 Q431.5,46 440.2,52.3 Q448.9,46 449.6,36.3" fill="none" stroke="#1c1c1c" stroke-width="0.9" stroke-linejoin="round" />
<path d="M431.4,41.2 L418.7,52.3 H461.3 L449.2,41.2" fill="none" stroke="#1c1c1c" stroke-width="0.9" stroke-linejoin="round" />
<rect x="418.70" y="52.30" width="42.60" height="4.00" fill="none" stroke="#1c1c1c" stroke-width="0.9" rx="0"/>
<rect x="415.40" y="56.30" width="49.20" height="4.00" fill="#fff" stroke="#1c1c1c" stroke-width="0.9" rx="1.2"/>
<path d="M415.9,60.3V65 M418.6,60.3 V86 M462.3,60.3 L460.7,108 V170.6" fill="none" stroke="#1c1c1c" stroke-width="0.9" stroke-linejoin="round" />
<path d="M416.2,95 L420.4,143 M419.4,86 L422.3,150" fill="none" stroke="#1c1c1c" stroke-width="0.9" stroke-linejoin="round" />
<line x1="405.80" y1="65.10" x2="426.00" y2="65.10" stroke="#1c1c1c" stroke-width="1.6" />
<line x1="405.40" y1="79.90" x2="427.80" y2="79.90" stroke="#1c1c1c" stroke-width="1.6" />
<path d="M405.4,61.6V65 M409.8,65.3V80 M412.3,66V69.5 M415.6,80V86.5 M407.7,83.5H413 M407.7,85.5H413" fill="none" stroke="#1c1c1c" stroke-width="0.9" stroke-linejoin="round" />
<circle cx="415.20" cy="72.80" r="3.30" fill="#fff" stroke="#1c1c1c" stroke-width="1.2"/>
<circle cx="415.20" cy="72.80" r="1.20" fill="none" stroke="#1c1c1c" stroke-width="0.9"/>
<circle cx="417.00" cy="90.70" r="4.00" fill="#fff" stroke="#1c1c1c" stroke-width="1.4"/>
<circle cx="417.00" cy="90.70" r="2.20" fill="none" stroke="#1c1c1c" stroke-width="0.8"/>
<path d="M460.7,102.6H464.4V108H460.7" fill="none" stroke="#1c1c1c" stroke-width="0.9" stroke-linejoin="round" />
<path d="M460.7,155.8H458 Q456.8,155.8 456.8,157.6 Q456.8,159.4 458,159.4 H464.4" fill="none" stroke="#1c1c1c" stroke-width="0.9" stroke-linejoin="round" />
<line x1="446.90" y1="133.00" x2="454.50" y2="133.00" stroke="#1c1c1c" stroke-width="1.3" />
<circle cx="458.70" cy="133.00" r="4.20" fill="#fff" stroke="#1c1c1c" stroke-width="1.2"/>
<circle cx="458.70" cy="133.00" r="2.10" fill="none" stroke="#1c1c1c" stroke-width="0.9"/>
<rect x="410.30" y="152.50" width="10.40" height="23.70" fill="none" stroke="#1c1c1c" stroke-width="0.9" rx="0"/>
<path d="M414.5,154 Q413.5,165 416,170 Q418,174 421.9,176 M418.5,154 Q417.8,163 419.5,168" fill="none" stroke="#1c1c1c" stroke-width="0.7" stroke-linejoin="round" />
<circle cx="416.90" cy="148.00" r="5.30" fill="#fff" stroke="#1c1c1c" stroke-width="1.3"/>
<circle cx="416.90" cy="148.00" r="2.20" fill="none" stroke="#1c1c1c" stroke-width="0.9"/>
<path d="M420.6,170.6H460.7 M424.6,170.6V221 M422.4,150 V206 M457.5,170.6V198.7 Q452,199.5 447.5,197.2 L445.2,199 V206.2" fill="none" stroke="#1c1c1c" stroke-width="0.9" stroke-linejoin="round" />
<line x1="407.70" y1="180.20" x2="422.60" y2="180.20" stroke="#1c1c1c" stroke-width="1.1" />
<line x1="407.70" y1="181.90" x2="422.60" y2="181.90" stroke="#1c1c1c" stroke-width="0.8" />
<path d="M407.7,190H414 M407.7,203H420" fill="none" stroke="#1c1c1c" stroke-width="0.9" stroke-linejoin="round" />
<circle cx="416.90" cy="196.20" r="4.20" fill="#fff" stroke="#1c1c1c" stroke-width="1.5"/>
<circle cx="416.90" cy="196.20" r="2.10" fill="none" stroke="#1c1c1c" stroke-width="0.8"/>
<rect x="419.4" y="206.2" width="27" height="2.60" rx="1.3" fill="#fff" stroke="#1c1c1c" stroke-width="0.8"/>
<rect x="419.4" y="211.2" width="27" height="3.10" rx="1.3" fill="#fff" stroke="#1c1c1c" stroke-width="0.8"/>
<rect x="419.4" y="216.3" width="27" height="3.10" rx="1.3" fill="#fff" stroke="#1c1c1c" stroke-width="0.8"/>
<path d="M421,208.8V211.2M445,208.8V211.2M421,214.3V216.3M445,214.3V216.3" fill="none" stroke="#1c1c1c" stroke-width="0.7" stroke-linejoin="round" />
<line x1="407.70" y1="212.70" x2="419.40" y2="212.70" stroke="#1c1c1c" stroke-width="0.9" />
<path d="M411.3,225.6V218.5 Q411.3,215.2 415,215.2 H418 Q421.9,215.8 421.9,221 V225.6Z" fill="#fff" stroke="#1c1c1c" stroke-width="0.9" stroke-linejoin="round" />
<circle cx="416.60" cy="221.30" r="2.50" fill="none" stroke="#1c1c1c" stroke-width="0.8"/>
<path d="M424.6,219.4V221 Q426,229.4 435.5,229.4 Q445,229.4 446.3,221 V219.4" fill="none" stroke="#1c1c1c" stroke-width="0.9" stroke-linejoin="round" />
<path d="M446.3,223H464.3V241.3H429 M460.5,223V241.3" fill="none" stroke="#1c1c1c" stroke-width="0.9" stroke-linejoin="round" />
<path d="M402,243.7H414.2 M414.2,250.8V243.7 L416,240.5 L420.3,237.3 Q422,236.6 423.5,237.6 L429,241.3 V250.8 Z" fill="#fff" stroke="#1c1c1c" stroke-width="0.9" stroke-linejoin="round" />
<path d="M419.3,250.8V256.8Q419.3,259.2 421.8,259.2Q424.2,259.2 424.2,256.8V250.8Z" fill="#444" stroke="#1c1c1c" stroke-width="0.9" stroke-linejoin="round" />
<path d="M453.8,16.3L471.6,26.3V48.3" fill="none" stroke="#1c1c1c" stroke-width="0.9" stroke-linejoin="round" />
<text x="480.20" y="37.80" text-anchor="middle" font-size="8.78" fill="#111" stroke="#111" stroke-width="0.18" transform="rotate(-90 480.20 37.80)" >Ø48</text>
<path d="M464.6,231.7L481.7,242V264.5" fill="none" stroke="#1c1c1c" stroke-width="0.9" stroke-linejoin="round" />
<text x="490.40" y="253.80" text-anchor="middle" font-size="8.78" fill="#111" stroke="#111" stroke-width="0.18" transform="rotate(-90 490.40 253.80)" >Ø32</text>
<rect x="0.50" y="304.50" width="41.00" height="97.50" fill="#f3f3f3"/>
<rect x="114.90" y="304.50" width="78.50" height="97.50" fill="#f3f3f3"/>
<rect x="256.40" y="304.50" width="97.00" height="97.50" fill="#f3f3f3"/>
<rect x="421.40" y="304.50" width="110.90" height="12.19" fill="#f3f3f3"/>
<line x1="0.00" y1="304.50" x2="600.00" y2="304.50" stroke="#151515" stroke-width="1.15" />
<line x1="0.00" y1="316.69" x2="256.40" y2="316.69" stroke="#151515" stroke-width="1.15" />
<line x1="0.00" y1="328.88" x2="256.40" y2="328.88" stroke="#151515" stroke-width="1.15" />
<line x1="0.00" y1="341.07" x2="256.40" y2="341.07" stroke="#151515" stroke-width="1.15" />
<line x1="0.00" y1="353.26" x2="256.40" y2="353.26" stroke="#151515" stroke-width="1.15" />
<line x1="0.00" y1="365.45" x2="256.40" y2="365.45" stroke="#151515" stroke-width="1.15" />
<line x1="114.90" y1="389.83" x2="256.40" y2="389.83" stroke="#151515" stroke-width="1.15" />
<line x1="256.40" y1="316.69" x2="600.00" y2="316.69" stroke="#151515" stroke-width="1.15" />
<line x1="256.40" y1="341.07" x2="600.00" y2="341.07" stroke="#151515" stroke-width="1.15" />
<line x1="256.40" y1="377.64" x2="600.00" y2="377.64" stroke="#151515" stroke-width="1.15" />
<line x1="41.50" y1="304.50" x2="41.50" y2="402.00" stroke="#151515" stroke-width="1.15" />
<line x1="114.90" y1="304.50" x2="114.90" y2="402.00" stroke="#151515" stroke-width="1.15" />
<line x1="193.40" y1="304.50" x2="193.40" y2="402.00" stroke="#151515" stroke-width="1.15" />
<line x1="256.40" y1="304.50" x2="256.40" y2="402.00" stroke="#151515" stroke-width="1.15" />
<line x1="353.40" y1="304.50" x2="353.40" y2="402.00" stroke="#151515" stroke-width="1.15" />
<line x1="421.40" y1="304.50" x2="421.40" y2="316.69" stroke="#151515" stroke-width="1.15" />
<line x1="532.30" y1="304.50" x2="532.30" y2="316.69" stroke="#151515" stroke-width="1.15" />
<text x="21.00" y="314.15" text-anchor="middle" font-size="8.78" fill="#111" stroke="#111" stroke-width="0.18" >KVR</text>
<text x="78.20" y="314.15" text-anchor="middle" font-size="8.78" fill="#111" stroke="#111" stroke-width="0.18" >1100826-PAM</text>
<text x="154.15" y="314.15" text-anchor="middle" font-size="8.78" fill="#111" stroke="#111" stroke-width="0.18" >PRODUCT GROUP</text>
<text x="224.90" y="314.15" text-anchor="middle" font-size="8.78" fill="#111" stroke="#111" stroke-width="0.18" >Radiator</text>
<text x="21.00" y="326.33" text-anchor="middle" font-size="8.78" fill="#111" stroke="#111" stroke-width="0.18" >NISSENS</text>
<text x="78.20" y="326.33" text-anchor="middle" font-size="8.78" fill="#111" stroke="#111" stroke-width="0.18" >63522</text>
<text x="154.15" y="326.33" text-anchor="middle" font-size="8.78" fill="#111" stroke="#111" stroke-width="0.18" >CRAFT TYPE</text>
<text x="224.90" y="326.33" text-anchor="middle" font-size="8.78" fill="#111" stroke="#111" stroke-width="0.18" >Mechanical</text>
<text x="21.00" y="338.53" text-anchor="middle" font-size="8.78" fill="#111" stroke="#111" stroke-width="0.18" >AVA</text>
<text x="78.20" y="338.53" text-anchor="middle" font-size="8.78" fill="#111" stroke="#111" stroke-width="0.18" >PE2012</text>
<text x="154.15" y="338.53" text-anchor="middle" font-size="8.78" fill="#111" stroke="#111" stroke-width="0.18" >ROWS NUMBER</text>
<text x="224.90" y="338.53" text-anchor="middle" font-size="8.78" fill="#111" stroke="#111" stroke-width="0.18" >2</text>
<text x="21.00" y="350.71" text-anchor="middle" font-size="8.78" fill="#111" stroke="#111" stroke-width="0.18" >BEHR</text>
<text x="78.20" y="350.71" text-anchor="middle" font-size="8.78" fill="#111" stroke="#111" stroke-width="0.18" >8MK 376 720-001</text>
<text x="154.15" y="350.71" text-anchor="middle" font-size="8.78" fill="#111" stroke="#111" stroke-width="0.18" >CORE SIZE(mm)</text>
<text x="224.90" y="350.71" text-anchor="middle" font-size="8.78" fill="#111" stroke="#111" stroke-width="0.18" >392*322*23</text>
<text x="21.00" y="362.91" text-anchor="middle" font-size="8.78" fill="#111" stroke="#111" stroke-width="0.18" >STELLOX</text>
<text x="78.20" y="362.91" text-anchor="middle" font-size="8.78" fill="#111" stroke="#111" stroke-width="0.18" >10-26098-SX</text>
<text x="154.15" y="362.91" text-anchor="middle" font-size="8.78" fill="#111" stroke="#111" stroke-width="0.18" >MATERIAL</text>
<text x="224.90" y="362.91" text-anchor="middle" font-size="8.78" fill="#111" stroke="#111" stroke-width="0.18" >PA</text>
<text x="21.00" y="387.28" text-anchor="middle" font-size="8.78" fill="#111" stroke="#111" stroke-width="0.18" >OTHERS</text>
<text x="78.20" y="387.28" text-anchor="middle" font-size="8.78" fill="#111" stroke="#111" stroke-width="0.18" >730372</text>
<text x="154.15" y="375.59" text-anchor="middle" font-size="8.78" fill="#111" stroke="#111" stroke-width="0.18" >TRANSMISSION</text>
<text x="154.15" y="385.99" text-anchor="middle" font-size="8.78" fill="#111" stroke="#111" stroke-width="0.18" >TYPE</text>
<text x="224.90" y="381.19" text-anchor="middle" font-size="8.78" fill="#111" stroke="#111" stroke-width="0.18" >MT</text>
<text x="154.15" y="399.46" text-anchor="middle" font-size="8.78" fill="#111" stroke="#111" stroke-width="0.18" >SUPPLEMENTARY</text>
<text x="304.90" y="314.15" text-anchor="middle" font-size="8.78" fill="#111" stroke="#111" stroke-width="0.18" >DIAGRAM DATE</text>
<text x="387.40" y="314.15" text-anchor="middle" font-size="8.78" fill="#111" stroke="#111" stroke-width="0.18" >2023.09.22</text>
<text x="476.85" y="314.15" text-anchor="middle" font-size="8.78" fill="#111" stroke="#111" stroke-width="0.18" >DIAGRAM MODIFY DATE</text>
<text x="304.90" y="326.23" text-anchor="middle" font-size="8.78" fill="#111" stroke="#111" stroke-width="0.18" >DIAGRAM MODIFY</text>
<text x="304.90" y="337.03" text-anchor="middle" font-size="8.78" fill="#111" stroke="#111" stroke-width="0.18" >REASON</text>
<text x="304.90" y="361.71" text-anchor="middle" font-size="8.78" fill="#111" stroke="#111" stroke-width="0.18" >MAKE/MODEL</text>
<text x="304.90" y="393.97" text-anchor="middle" font-size="8.78" fill="#111" stroke="#111" stroke-width="0.18" >OEM</text>
<text x="476.70" y="356.31" text-anchor="middle" font-size="8.78" fill="#111" stroke="#111" stroke-width="0.18" >Peugeot (import) 106? (1A, 1C)</text>
<text x="476.70" y="367.31" text-anchor="middle" font-size="8.78" fill="#111" stroke="#111" stroke-width="0.18" >Peugeot (import) 106 Van (1)</text>
<text x="476.70" y="393.37" text-anchor="middle" font-size="8.78" fill="#111" stroke="#111" stroke-width="0.18" >1301.B0/1301C6</text>
<line x1="0.00" y1="0.50" x2="600.00" y2="0.50" stroke="#bdbdbd" stroke-width="1" />
<line x1="0.50" y1="0.00" x2="0.50" y2="402.00" stroke="#777" stroke-width="1" />
<line x1="599.50" y1="0.00" x2="599.50" y2="402.00" stroke="#c8c8c8" stroke-width="1" />
<line x1="0.00" y1="401.50" x2="600.00" y2="401.50" stroke="#b0b0b0" stroke-width="1" />
</svg>
</body></html>
